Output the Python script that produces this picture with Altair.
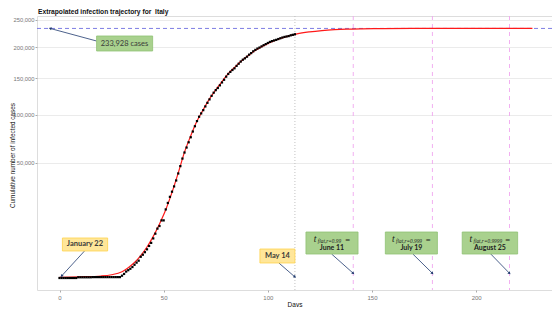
import math
import altair as alt
import pandas as pd

# ---------------- data ----------------
obs_days = list(range(0, 114))
obs_cases = (
    [0] * 9 + [2] * 7 + [3] * 14 +
    [20, 62, 155, 229, 322, 453, 655, 888, 1128,
     1694, 2036, 2502, 3089, 3858, 4636, 5883, 7375, 9172, 10149,
     12462, 12462, 17660, 21157, 24747, 27980, 31506, 35713, 41035, 47021,
     53578, 59138, 63927, 69176, 74386, 80589, 86498, 92472, 97689, 101739,
     105792, 110574, 115242, 119827, 124632, 128948, 132547, 135586, 139422, 143626,
     147577, 152271, 156363, 159516, 162488, 165155, 168941, 172434, 175925, 178972,
     181228, 183957, 187327, 189973, 192994, 195351, 197675, 199414, 201505, 203591,
     205463, 207428, 209328, 210717, 211938, 213013, 214457, 215858, 217185, 218268,
     219070, 219814, 221216, 222104, 223096]
)

fit_days = [0, 10, 20, 25, 30, 33, 36, 39, 42, 45, 48, 51, 54, 57, 60, 63, 66, 69,
            72, 75, 78, 81, 84, 87, 90, 93, 96, 99, 102, 105, 108, 111, 114, 120,
            126, 132, 138, 145, 155, 170, 190, 227]
fit_cases = [2, 5, 15, 40, 150, 400, 900, 1900, 3600, 6500, 11000, 17500, 27500,
             41500, 59500, 76000, 92500, 106500, 120500, 133000, 145000, 157000,
             166500, 176000, 184200, 192300, 198800, 204600, 209600, 214000, 217800,
             221000, 223800, 227500, 230000, 231600, 232600, 233200, 233600, 233850,
             233910, 233928]

plateau = 233928
may14_day = 113
flat_days = [141, 179, 216]
x_ticks = [0, 50, 100, 150, 200]
y_ticks = [50000, 100000, 150000, 200000, 250000]

# annotation boxes (data coordinates)
box_x1 = [17.8, 1.4, 96.2, 118.3, 156.4, 193.3]
box_x2 = [44.7, 23.1, 113.0, 143.3, 181.4, 219.9]
box_y1 = [219960, 6009, 3158, 7945, 7945, 7945]
box_y2 = [193540, 2738, 845, 2163, 2163, 2163]
box_kind = ["green", "yellow", "yellow", "green", "green", "green"]

# arrows (start -> end, data coordinates)
arr_x1 = [17.8, 12.0, 105.3, 130.6, 169.6, 207.0]
arr_y1 = [210950, 2738, 845, 2163, 2163, 2163]
arr_x2 = [-4.5, 1.0, 113.0, 141.0, 179.0, 216.0]
arr_y2 = [233928, 15, 4, 83, 83, 83]

simple_labels = ["233,928 cases", "January 22", "May 14"]
simple_x = [31.2, 12.2, 104.6]
simple_y = [205660, 4215, 1817]
simple_bold = [False, True, True]

flat_subs = ["flat,r=0.99", "flat,r=0.999", "flat,r=0.9999"]
flat_dates = ["June 11", "July 19", "August 25"]
flat_cx = [130.8, 168.9, 206.6]
line1_y = 5712
line2_y = 3380

# ---------------- geometry / style ----------------
W, H = 515, 274
x_dom = [-10.8, 236.4]
y_dom = [-541, 257810]
FONT = "Liberation Sans"


def px(d):
    return (d - x_dom[0]) / (x_dom[1] - x_dom[0]) * W


def sgn_sqrt(v):
    return math.copysign(math.sqrt(abs(v)), v)


def py(v):
    a, b = sgn_sqrt(y_dom[0]), sgn_sqrt(y_dom[1])
    return H - (sgn_sqrt(v) - a) / (b - a) * H


xs = alt.Scale(domain=x_dom, nice=False, zero=False)
ys = alt.Scale(type="sqrt", domain=y_dom, nice=False, zero=False)

obs = pd.DataFrame({"day": obs_days, "cases": obs_cases})
fit = pd.DataFrame({"day": fit_days, "cases": fit_cases})

base_x = alt.X("day:Q", scale=xs, axis=alt.Axis(
    values=x_ticks, title="Days", grid=False, domain=False,
    tickSize=2, tickColor="#aaaaaa", labelColor="#777777", labelFontSize=6,
    labelFont=FONT, titleFont=FONT, titleFontSize=6.5, titleFontWeight="normal",
    titleColor="#111111", labelPadding=2, titlePadding=1))
base_y = alt.Y("cases:Q", scale=ys, axis=alt.Axis(
    values=y_ticks, labelExpr="format(datum.value, ',')", title="Cumulative number of infected cases",
    grid=True, gridColor="#e6e6e6", gridWidth=0.8, domain=False,
    tickSize=2, tickColor="#aaaaaa", labelColor="#777777", labelFontSize=5.8,
    labelFont=FONT, titleFont=FONT, titleFontSize=6.4, titleFontWeight="normal",
    titleColor="#111111", labelPadding=1, titleAngle=270, titleX=-25, titleY=139,
    titleAlign="center", titleBaseline="middle"))

layers = []

# axes carrier (invisible)
layers.append(alt.Chart(obs).mark_point(opacity=0).encode(x=base_x, y=base_y))

# vertical reference lines
layers.append(alt.Chart(pd.DataFrame({"day": [may14_day]})).mark_rule(
    color="#bbbbbb", strokeDash=[1, 2], strokeWidth=0.9).encode(x=alt.X("day:Q", scale=xs)))
layers.append(alt.Chart(pd.DataFrame({"day": flat_days})).mark_rule(
    color="#f0a6ef", strokeDash=[4, 4], strokeWidth=0.9).encode(x=alt.X("day:Q", scale=xs)))

# plateau line
layers.append(alt.Chart(pd.DataFrame({"cases": [plateau]})).mark_rule(
    color="#6f6fe0", strokeDash=[4, 3], strokeWidth=0.9).encode(y=alt.Y("cases:Q", scale=ys)))

# fit line and observations
layers.append(alt.Chart(fit).mark_line(color="#ff1a1a", strokeWidth=1.2, interpolate="monotone").encode(
    x=alt.X("day:Q", scale=xs), y=alt.Y("cases:Q", scale=ys)))
layers.append(alt.Chart(obs).mark_point(shape="square", filled=True, color="black", size=5, opacity=1).encode(
    x=alt.X("day:Q", scale=xs), y=alt.Y("cases:Q", scale=ys)))

# arrows
arr = pd.DataFrame({"x1": arr_x1, "y1": arr_y1, "x2": arr_x2, "y2": arr_y2})
arr["ang"] = [
    (math.degrees(math.atan2(px(b) - px(a), -(py(d) - py(c)))) + 360) % 360
    for a, b, c, d in zip(arr_x1, arr_x2, arr_y1, arr_y2)
]
layers.append(alt.Chart(arr).mark_rule(color="#1f3a6e", strokeWidth=0.8).encode(
    x=alt.X("x1:Q", scale=xs), y=alt.Y("y1:Q", scale=ys), x2="x2:Q", y2="y2:Q"))
layers.append(alt.Chart(arr).mark_point(shape="triangle-up", filled=True, color="#1f3a6e", size=10, opacity=1).encode(
    x=alt.X("x2:Q", scale=xs), y=alt.Y("y2:Q", scale=ys), angle=alt.Angle("ang:Q", scale=None)))

# boxes
boxes = pd.DataFrame({"x1": box_x1, "x2": box_x2, "y1": box_y1, "y2": box_y2, "kind": box_kind})
layers.append(alt.Chart(boxes).mark_rect(strokeWidth=0.8).encode(
    x=alt.X("x1:Q", scale=xs), x2="x2:Q", y=alt.Y("y1:Q", scale=ys), y2="y2:Q",
    fill=alt.Fill("kind:N", scale=alt.Scale(domain=["green", "yellow"], range=["#a9d18e", "#ffe699"]), legend=None),
    stroke=alt.Stroke("kind:N", scale=alt.Scale(domain=["green", "yellow"], range=["#8fc274", "#ffd34d"]), legend=None)))

# box texts
lab = pd.DataFrame({"t": simple_labels, "x": simple_x, "y": simple_y, "b": simple_bold})
layers.append(alt.Chart(lab[~lab.b]).mark_text(font="Lato", fontSize=7.5, color="#3a3a3a").encode(
    x=alt.X("x:Q", scale=xs), y=alt.Y("y:Q", scale=ys), text="t:N"))
layers.append(alt.Chart(lab[lab.b]).mark_text(font="Lato", fontSize=7.5, fontWeight="bold", color="#3a3a3a").encode(
    x=alt.X("x:Q", scale=xs), y=alt.Y("y:Q", scale=ys), text="t:N"))

sub_w = [len(s) * 2.3 for s in flat_subs]
t_rows, s_rows, e_rows = [], [], []
for cx, s, w in zip(flat_cx, flat_subs, sub_w):
    total = 4 + w + 2 + 5
    start = -total / 2
    t_rows.append({"x": cx, "y": line1_y, "t": "t", "dx": start})
    s_rows.append({"x": cx, "y": line1_y, "t": s, "dx": start + 4})
    e_rows.append({"x": cx, "y": line1_y, "t": "=", "dx": start + 4 + w + 2})

for rows, size, style, dy in [(t_rows, 9.5, "italic", 0), (s_rows, 5.3, "italic", 2), (e_rows, 8.5, "normal", 1)]:
    for r in rows:
        layers.append(alt.Chart(pd.DataFrame([r])).mark_text(
            font="Liberation Serif", fontSize=size, fontStyle=style, color="#1a1a1a",
            align="left", baseline="middle", dx=r["dx"], dy=dy).encode(
            x=alt.X("x:Q", scale=xs), y=alt.Y("y:Q", scale=ys), text="t:N"))

dates = pd.DataFrame({"x": flat_cx, "y": [line2_y] * 3, "t": flat_dates})
layers.append(alt.Chart(dates).mark_text(font="Lato", fontSize=7, fontWeight="bold", color="#222222",
                                         baseline="middle").encode(
    x=alt.X("x:Q", scale=xs), y=alt.Y("y:Q", scale=ys), text="t:N"))

# title
layers.append(alt.Chart(pd.DataFrame({"t": ["Extrapolated infection trajectory for\u00a0 Italy"]})).mark_text(
    font=FONT, fontSize=6.7, fontWeight="bold", color="#111111", align="left", baseline="middle").encode(
    x=alt.value(1), y=alt.value(-4), text="t:N"))

chart = alt.layer(*layers).properties(
    width=W, height=H,
    autosize=alt.AutoSizeParams(type="none"),
    padding={"left": 29, "top": 8, "right": 0, "bottom": 17},
).configure_view(stroke=None).configure(background="white")

chart.save("out.html", embed_options={"renderer": "svg", "actions": False})
